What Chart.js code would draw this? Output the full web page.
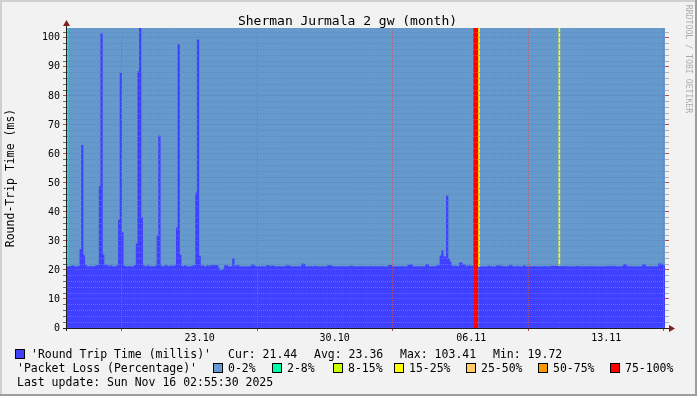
<!DOCTYPE html>
<html>
<head>
<meta charset="utf-8">
<title>Sherman Jurmala 2 gw (month)</title>
<script src="https://cdn.jsdelivr.net/npm/chart.js"></script>
<style>
  html, body { margin: 0; padding: 0; background: #f2f2f2; }
  canvas { display: block; }
</style>
</head>
<body>
<canvas id="chart" width="697" height="396"></canvas>
<script>
const chartTitle = "Sherman Jurmala 2 gw (month)";
const spanHours = 744;
const stepHours = 2;

// round trip time (ms), one value per 2h, 16.10 03:00 -> 16.11 03:00
const rtt = [
  21.2, 21.1, 21.2, 21.5, 21.2, 21.1, 21.1, 21.3, 27.0, 63.0, 25.0, 21.7,
  21.1, 21.1, 21.2, 21.1, 21.1, 21.2, 21.5, 21.5, 48.7, 101.4, 25.2, 21.5,
  21.7, 21.4, 21.1, 21.5, 21.1, 21.1, 21.1, 21.5, 37.2, 87.8, 32.9, 21.4,
  21.1, 21.1, 21.2, 21.1, 21.1, 21.1, 21.6, 29.0, 88.4, 103.41, 38.0, 21.5,
  21.2, 21.1, 21.5, 21.1, 21.1, 21.1, 21.1, 21.4, 31.7, 66.2, 21.4, 21.1,
  21.1, 21.6, 21.3, 21.1, 21.4, 21.4, 21.2, 21.5, 34.5, 97.6, 25.2, 21.3,
  21.1, 21.5, 21.1, 21.1, 21.1, 21.2, 21.4, 21.5, 46.5, 99.3, 24.8, 21.3,
  21.5, 21.1, 21.1, 21.5, 21.1, 21.5, 21.5, 21.5, 21.5, 21.5, 20.5, 19.72,
  19.8, 20.4, 21.5, 21.5, 21.1, 21.1, 21.1, 23.9, 21.1, 21.5, 21.5, 21.1,
  21.1, 21.1, 21.1, 21.1, 21.1, 21.1, 21.2, 21.8, 21.4, 21.1, 21.1, 21.1,
  21.1, 21.2, 21.1, 21.1, 21.5, 21.5, 21.1, 21.4, 21.4, 21.1, 21.1, 21.2,
  21.1, 21.1, 21.1, 21.1, 21.4, 21.4, 21.4, 21.1, 21.1, 21.1, 21.2, 21.1,
  21.1, 21.1, 22.1, 22.0, 21.1, 21.1, 21.1, 21.2, 21.1, 21.1, 21.3, 21.1,
  21.1, 21.1, 21.1, 21.2, 21.1, 21.1, 21.5, 21.5, 21.4, 21.1, 21.1, 21.1,
  21.1, 21.1, 21.2, 21.1, 21.1, 21.1, 21.1, 21.1, 21.3, 21.3, 21.1, 21.1,
  21.1, 21.1, 21.1, 21.2, 21.1, 21.1, 21.1, 21.1, 21.2, 21.1, 21.1, 21.1,
  21.1, 21.1, 21.1, 21.2, 21.1, 21.1, 21.1, 21.1, 21.6, 21.6, 21.1, 21.1,
  21.1, 21.1, 21.1, 21.1, 21.2, 21.1, 21.1, 21.1, 21.7, 21.8, 21.7, 21.1,
  21.1, 21.1, 21.2, 21.1, 21.1, 21.1, 21.1, 21.8, 21.8, 21.1, 21.1, 21.2,
  21.1, 21.1, 21.5, 21.5, 24.8, 26.6, 24.5, 24.5, 45.5, 23.8, 22.8, 21.4,
  21.3, 21.3, 21.3, 21.1, 22.4, 22.4, 21.7, 21.7, 21.1, 21.4, 21.4, 21.3,
  21.3, null, null, null, 21.0, 21.0, 21.1, 21.1, 21.0, 21.1, 21.4, 21.1,
  21.1, 21.1, 21.1, 21.4, 21.4, 21.4, 21.3, 21.1, 21.1, 21.1, 21.1, 21.5,
  21.5, 21.1, 21.1, 21.1, 21.3, 21.1, 21.1, 21.1, 21.5, 21.1, 21.1, 21.1,
  21.1, 21.1, 21.2, 21.1, 21.1, 21.1, 21.1, 21.1, 21.1, 21.2, 21.1, 21.1,
  21.1, 21.3, 21.3, 21.3, 21.3, 21.3, 21.3, 21.1, 21.1, 21.2, 21.2, 21.1,
  21.1, 21.1, 21.1, 21.1, 21.1, 21.3, 21.1, 21.1, 21.1, 21.1, 21.1, 21.2,
  21.1, 21.1, 21.2, 21.1, 21.1, 21.1, 21.1, 21.1, 21.1, 21.1, 21.1, 21.1,
  21.3, 21.1, 21.3, 21.1, 21.3, 21.1, 21.1, 21.1, 21.1, 21.1, 21.8, 21.8,
  21.1, 21.1, 21.2, 21.1, 21.1, 21.1, 21.1, 21.1, 21.1, 21.1, 21.8, 21.8,
  21.1, 21.1, 21.1, 21.2, 21.1, 21.1, 21.1, 21.1, 22.1, 22.1, 21.8, 21.44,
];

// samples with packet loss (all others 0%)
const lossSample = [0, 253, 254, 255, 256, 306];
const lossPercent = [5, 100, 100, 100, 20, 20];

const lossBands = ["0-2%", "2-8%", "8-15%", "15-25%", "25-50%", "50-75%", "75-100%"];
const lossLimits = [2, 8, 15, 25, 50, 75, 100];
const lossColors = ["#6699cc", "#00ffaa", "#ccff00", "#ffff00", "#ffcc66", "#ff9900", "#ff0000"];

const dayLabels = ["23.10", "30.10", "06.11", "13.11"];
const dayLabelHours = [165, 333, 503, 671];
const weekGridHours = [68, 237, 405, 574, 742];

const statNames = ["Cur", "Avg", "Max", "Min"];
const statValues = ["21.44", "23.36", "103.41", "19.72"];
const lastUpdate = "Last update: Sun Nov 16 02:55:30 2025";

const mono = '"DejaVu Sans Mono", monospace';
const rttColor = "#4040ff";
const minorGrid = "rgba(128,128,128,0.85)";
const majorGrid = "rgba(222,79,79,0.7)";
const minorTick = "#6a6a6a";
const majorTick = "#c84848";
const axisColor = "#1f1f1f";
const arrowColor = "#801f1f";

const sampleHours = rtt.map((v, i) => i * stepHours + stepHours / 2);
const lossBySample = rtt.map(() => 0);
lossSample.forEach((idx, k) => {
  lossBySample[idx] = lossPercent[k];
});
const lossColor = (p) => lossColors[lossLimits.findIndex((l) => p <= l)];
const yMax = Math.max(...rtt.filter((v) => v !== null));
const yTicks = [];
for (let v = 0; v < yMax; v += 2) yTicks.push(v);

const isMajor = (c) => c.tick && c.tick.value % 10 === 0;

const rrdDecor = {
  id: "rrdDecor",
  beforeDraw(chart) {
    const { ctx, chartArea: a, width, height } = chart;
    ctx.save();
    ctx.fillStyle = "#f2f2f2";
    ctx.fillRect(0, 0, width, height);
    ctx.fillStyle = "#cfcfcf";
    ctx.fillRect(0, 0, width, 2);
    ctx.fillRect(0, 0, 2, height);
    ctx.fillStyle = "#9e9e9e";
    ctx.fillRect(0, height - 2, width, 2);
    ctx.fillRect(width - 2, 0, 2, height);
    ctx.fillStyle = lossColors[0];
    ctx.fillRect(a.left, a.top, a.right - a.left, a.bottom - a.top);
    ctx.restore();
  },
  afterDraw(chart) {
    const { ctx, chartArea: a } = chart;
    ctx.save();

    // axes and arrows
    ctx.strokeStyle = axisColor;
    ctx.lineWidth = 1;
    ctx.beginPath();
    ctx.moveTo(a.left - 0.5, a.bottom + 3);
    ctx.lineTo(a.left - 0.5, a.top - 2);
    ctx.moveTo(a.left - 4, a.bottom + 0.5);
    ctx.lineTo(a.right + 4, a.bottom + 0.5);
    ctx.stroke();
    ctx.fillStyle = arrowColor;
    ctx.beginPath();
    ctx.moveTo(a.left - 4, a.top - 2);
    ctx.lineTo(a.left + 3, a.top - 2);
    ctx.lineTo(a.left - 0.5, a.top - 8);
    ctx.closePath();
    ctx.fill();
    ctx.beginPath();
    ctx.moveTo(a.right + 4, a.bottom - 3);
    ctx.lineTo(a.right + 4, a.bottom + 4);
    ctx.lineTo(a.right + 10, a.bottom + 0.5);
    ctx.closePath();
    ctx.fill();

    // title
    ctx.fillStyle = "#000";
    ctx.font = "13px " + mono;
    ctx.textAlign = "center";
    ctx.textBaseline = "alphabetic";
    ctx.fillText(chartTitle, 347.5, 25);

    // watermark
    ctx.save();
    ctx.translate(688, 59);
    ctx.rotate(Math.PI / 2);
    ctx.font = "8.2px " + mono;
    ctx.fillStyle = "rgba(0,0,0,0.3)";
    ctx.textBaseline = "middle";
    ctx.fillText("RRDTOOL / TOBI OETIKER", 0, 0);
    ctx.restore();

    // legend
    const swatch = (x, y, color) => {
      ctx.fillStyle = color;
      ctx.fillRect(x, y, 10, 10);
      ctx.strokeStyle = "#000";
      ctx.strokeRect(x + 0.5, y + 0.5, 9, 9);
    };
    ctx.font = "11.5px " + mono;
    ctx.textAlign = "left";
    swatch(15, 349, rttColor);
    ctx.fillStyle = "#000";
    ctx.fillText("'Round Trip Time (millis)'", 31, 358);
    const statX = [228, 314, 400, 493];
    statNames.forEach((name, k) => {
      ctx.fillText(name + ": " + statValues[k], statX[k], 358);
    });

    ctx.fillText("'Packet Loss (Percentage)'", 17, 372);
    const bandX = [213, 272, 333, 394, 466, 538, 610];
    lossBands.forEach((band, k) => {
      swatch(bandX[k], 363, lossColors[k]);
      ctx.fillStyle = "#000";
      ctx.fillText(band, bandX[k] + 15, 372);
    });

    ctx.fillText(lastUpdate, 17, 386);
    ctx.restore();
  },
};

new Chart(document.getElementById("chart"), {
  type: "bar",
  data: {
    datasets: [
      {
        label: "Packet Loss",
        data: sampleHours.map((h) => ({ x: h, y: 1 })),
        xAxisID: "x",
        yAxisID: "yl",
        backgroundColor: lossBySample.map(lossColor),
        borderWidth: 0,
        grouped: false,
        barPercentage: 1,
        categoryPercentage: 1,
        order: 2,
      },
      {
        label: "Round Trip Time",
        data: sampleHours.map((h, i) => ({ x: h, y: rtt[i] })),
        xAxisID: "x",
        yAxisID: "y",
        backgroundColor: rttColor,
        borderWidth: 0,
        grouped: false,
        barPercentage: 1,
        categoryPercentage: 1,
        order: 1,
      },
    ],
  },
  options: {
    responsive: false,
    animation: false,
    events: [],
    layout: { padding: { top: 28, left: 0, right: 0, bottom: 0 } },
    plugins: {
      legend: { display: false },
      tooltip: { enabled: false },
    },
    scales: {
      x: {
        type: "linear",
        position: "bottom",
        weight: 1,
        min: 0,
        max: spanHours,
        offset: false,
        afterBuildTicks: (s) => {
          s.ticks = dayLabelHours.map((v) => ({ value: v }));
        },
        afterFit: (s) => {
          s.height = 68;
        },
        ticks: {
          autoSkip: false,
          maxRotation: 0,
          padding: 4,
          color: "#000",
          font: { family: mono, size: 10 },
          callback: (v) => dayLabels[dayLabelHours.indexOf(v)],
        },
        grid: { display: false, drawTicks: false, offset: false },
        border: { display: false },
      },
      xg: {
        type: "linear",
        position: "bottom",
        weight: 0,
        min: 0,
        max: spanHours,
        offset: false,
        afterBuildTicks: (s) => {
          s.ticks = weekGridHours.map((v) => ({ value: v }));
        },
        afterFit: (s) => {
          s.height = 0;
        },
        ticks: { display: false },
        grid: {
          offset: false,
          color: majorGrid,
          tickColor: majorTick,
          tickLength: 3,
          z: 1,
        },
        border: { display: false, dash: [1, 1] },
      },
      y: {
        position: "left",
        min: 0,
        max: yMax,
        afterBuildTicks: (s) => {
          s.ticks = yTicks.map((v) => ({ value: v }));
        },
        afterFit: (s) => {
          s.width = 67;
        },
        ticks: {
          autoSkip: false,
          padding: 3,
          color: "#000",
          font: { family: mono, size: 10 },
          callback: (v) => (v % 10 === 0 ? String(v) : ""),
        },
        grid: {
          color: (c) => (isMajor(c) ? majorGrid : minorGrid),
          tickColor: (c) => (isMajor(c) ? majorTick : minorTick),
          tickLength: 4,
          z: 1,
        },
        border: { display: false, dash: [1, 1] },
        title: {
          display: true,
          text: "Round-Trip Time (ms)",
          color: "#000",
          font: { family: mono, size: 11.5 },
          padding: { top: 4, bottom: 0 },
        },
      },
      y2: {
        position: "right",
        min: 0,
        max: yMax,
        afterBuildTicks: (s) => {
          s.ticks = yTicks.map((v) => ({ value: v }));
        },
        afterFit: (s) => {
          s.width = 32;
        },
        ticks: { display: false },
        grid: {
          drawOnChartArea: false,
          tickColor: (c) => (isMajor(c) ? majorTick : "#b0b0b0"),
          tickLength: 4,
        },
        border: { display: false },
      },
      yl: {
        display: false,
        min: 0,
        max: 1,
      },
    },
  },
  plugins: [rrdDecor],
});
</script>
</body>
</html>
